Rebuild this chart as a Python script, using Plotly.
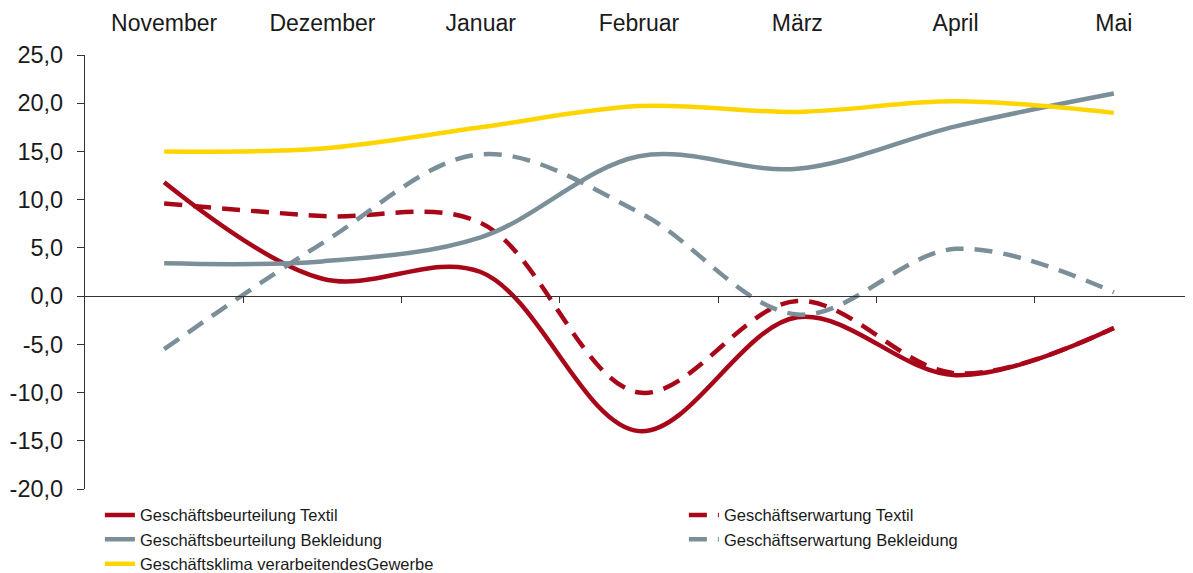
import plotly.graph_objects as go

months = ["November", "Dezember", "Januar", "Februar", "März", "April", "Mai"]

gb_textil = [11.8, 1.8, 2.5, -14.0, -2.2, -8.2, -3.3]
ge_textil = [9.6, 8.3, 7.6, -10.0, -0.5, -8.0, -3.3]
gb_bekleidung = [3.4, 3.6, 6.1, 14.5, 13.2, 17.6, 21.0]
ge_bekleidung = [-5.5, 5.5, 14.7, 8.7, -1.9, 4.9, 0.4]
klima = [15.0, 15.3, 17.5, 19.7, 19.1, 20.2, 19.0]

y_tickvals = [25, 20, 15, 10, 5, 0, -5, -10, -15, -20]
y_ticktext = ["25,0", "20,0", "15,0", "10,0", "5,0", "0,0", "-5,0", "-10,0", "-15,0", "-20,0"]

RED = "#A8071A"
GREY = "#7B8F99"
YELLOW = "#FFD500"

FONT = "Liberation Sans, Arial, sans-serif"

series = [
    ("Geschäftsbeurteilung Textil", gb_textil, RED, "solid"),
    ("Geschäftserwartung Textil", ge_textil, RED, "18px,11px"),
    ("Geschäftsbeurteilung Bekleidung", gb_bekleidung, GREY, "solid"),
    ("Geschäftserwartung Bekleidung", ge_bekleidung, GREY, "18px,11px"),
    ("Geschäftsklima verarbeitendesGewerbe", klima, YELLOW, "solid"),
]

x_idx = list(range(len(months)))

fig = go.Figure()
for name, vals, color, dash in series:
    fig.add_trace(go.Scatter(
        x=x_idx, y=vals, name=name, mode="lines",
        line=dict(color=color, width=4.5, dash=dash, shape="spline", smoothing=1.0),
        hoverinfo="skip",
    ))

# invisible trace to attach the secondary x-axis (zero line with band ticks)
fig.add_trace(go.Scatter(x=[-0.5, 6.5], y=[0, 0], xaxis="x2", mode="lines",
                         line=dict(width=0), showlegend=False, hoverinfo="skip"))

fig.update_layout(
    width=1185, height=565,
    margin=dict(l=77, r=0, t=47, b=84, autoexpand=False),
    paper_bgcolor="white", plot_bgcolor="white",
    font=dict(family=FONT, color="#1a1a1a"),
    xaxis=dict(
        range=[-0.5, 6.5], side="top", tickmode="array", tickvals=x_idx, ticktext=months,
        showgrid=False, zeroline=False, showline=False, ticks="", automargin=False,
        tickfont=dict(size=23, family=FONT), ticklabelstandoff=18,
    ),
    xaxis2=dict(
        range=[-0.5, 6.5], overlaying="x", anchor="free", position=20 / 45, side="bottom",
        showline=True, linecolor="#333", linewidth=1.3, automargin=False,
        tickmode="array", tickvals=[0.5, 1.5, 2.5, 3.5, 4.5, 5.5],
        ticks="outside", ticklen=6, tickcolor="#333", tickwidth=1.3,
        showticklabels=False, showgrid=False, zeroline=False,
    ),
    yaxis=dict(
        range=[-20, 25], tickmode="array", tickvals=y_tickvals, ticktext=y_ticktext,
        showgrid=False, zeroline=False, showline=True, linecolor="#333", linewidth=1.3,
        ticks="outside", ticklen=7, tickcolor="#333", tickwidth=1.3, automargin=False,
        tickfont=dict(size=23.5, family=FONT), ticklabelstandoff=9,
    ),
    legend=dict(
        orientation="h", x=-0.0001, xanchor="left", y=-0.02, yanchor="top",
        entrywidth=524, entrywidthmode="pixels", indentation=15,
        font=dict(size=16.5, family=FONT, color="#1a1a1a"),
        bgcolor="rgba(0,0,0,0)", tracegroupgap=0,
    ),
    showlegend=True,
)

fig.write_html("out.html")
